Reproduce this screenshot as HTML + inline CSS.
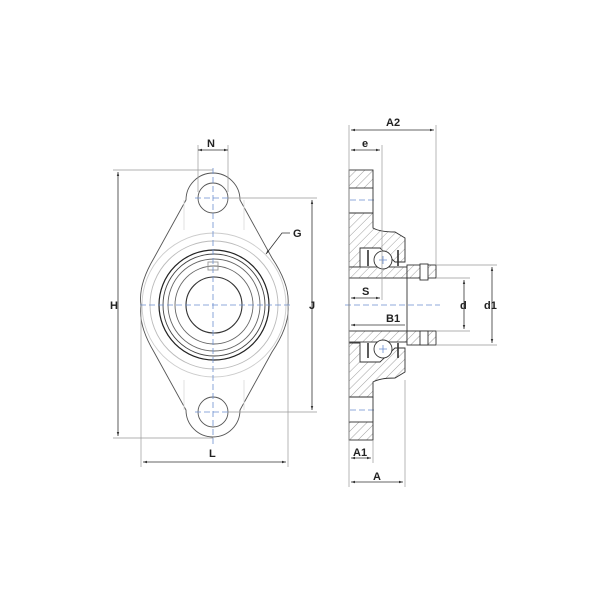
<!DOCTYPE html>
<html><head><meta charset="utf-8"><style>
html,body{margin:0;padding:0;background:#fff;width:600px;height:600px;overflow:hidden}
text{font-family:"Liberation Sans",sans-serif;font-weight:bold;font-size:11px;fill:#222}
</style></head><body>
<svg width="600" height="600" viewBox="0 0 600 600" xmlns="http://www.w3.org/2000/svg">
<defs>
<pattern id="h" width="6" height="6" patternUnits="userSpaceOnUse" patternTransform="rotate(45)">
<rect width="6" height="6" fill="#fff"/><line x1="0" y1="0" x2="0" y2="6" stroke="#888" stroke-width="0.8"/>
</pattern>
<marker id="a" viewBox="0 0 10 10" refX="10" refY="5" markerWidth="5" markerHeight="5" orient="auto-start-reverse"><path d="M0,2 L10,5 L0,8z" fill="#333"/></marker>
</defs>
<g fill="none" stroke="#555" stroke-width="0.9">
<path d="M186,200 A27,27 0 0 1 240,200 L272,258 Q290,285 288,305 Q290,325 272,352 L240,410 A27,27 0 0 1 186,410 L154,352 Q138,325 141,305 Q138,285 154,258 Z"/>
<circle cx="213" cy="198" r="15"/>
<circle cx="213" cy="412" r="15"/>
<circle cx="214" cy="305" r="72" stroke="#ccc"/>
<circle cx="214" cy="305" r="64" stroke="#bbb"/>
<circle cx="214" cy="305" r="55" stroke="#222" stroke-width="1.2"/>
<circle cx="214" cy="305" r="51" stroke="#444"/>
<circle cx="214" cy="305" r="46" stroke="#666"/>
<circle cx="214" cy="305" r="39" stroke="#666"/>
<circle cx="214" cy="305" r="28" stroke="#333" stroke-width="1.1"/>
<path d="M184,230 L184,200 M244,230 L244,200 M184,380 L184,410 M244,380 L244,410" stroke="#ddd"/>
<rect x="208" y="262" width="10" height="8" stroke="#999"/>
</g>
<g stroke="#6b8fd0" stroke-width="0.8" stroke-dasharray="6,3">
<line x1="213" y1="168" x2="213" y2="445"/>
<line x1="140" y1="305" x2="290" y2="305"/>
<line x1="195" y1="198" x2="231" y2="198"/>
<line x1="195" y1="412" x2="231" y2="412"/>
<line x1="345" y1="305" x2="440" y2="305"/>
<line x1="350" y1="200" x2="375" y2="200"/>
<line x1="350" y1="410" x2="375" y2="410"/>
</g>
<g stroke="#999" stroke-width="0.7" fill="none">
<line x1="198" y1="145" x2="198" y2="192"/><line x1="228" y1="145" x2="228" y2="192"/>
<line x1="113" y1="170" x2="213" y2="170"/><line x1="113" y1="438" x2="213" y2="438"/>
<line x1="141" y1="305" x2="141" y2="467"/><line x1="288" y1="305" x2="288" y2="467"/>
<line x1="228" y1="198" x2="317" y2="198"/><line x1="228" y1="412" x2="317" y2="412"/>
</g>
<g stroke="#333" stroke-width="0.8" fill="none">
<line x1="198" y1="150" x2="228" y2="150" marker-start="url(#a)" marker-end="url(#a)"/>
<line x1="118" y1="172" x2="118" y2="436" marker-start="url(#a)" marker-end="url(#a)"/>
<line x1="143" y1="462" x2="286" y2="462" marker-start="url(#a)" marker-end="url(#a)"/>
<line x1="312" y1="200" x2="312" y2="410" marker-start="url(#a)" marker-end="url(#a)"/>
<polyline points="266,254 282,233 290,233" marker-start="url(#a)"/>
</g>
<text x="207" y="147">N</text>
<text x="110" y="309">H</text>
<text x="209" y="457">L</text>
<text x="309" y="309">J</text>
<text x="293" y="237">G</text>
<g stroke="#333" stroke-width="0.9">
<rect x="349" y="170" width="24" height="18" fill="url(#h)"/>
<rect x="349" y="422" width="24" height="18" fill="url(#h)"/>
<path d="M349,188 V213 M373,188 V213 M349,397 V422 M373,397 V422" fill="none"/>
<path d="M349,213 L373,213 L373,228 Q380,232 395,232 L405,238 L405,262 L395,262 L380,248 L360,248 L360,267 L349,267 Z" fill="url(#h)"/>
<path d="M349,397 L373,397 L373,382 Q380,378 395,378 L405,372 L405,348 L395,348 L380,362 L360,362 L360,343 L349,343 Z" fill="url(#h)"/>
<rect x="349" y="267" width="58" height="11" fill="url(#h)"/>
<rect x="349" y="331" width="58" height="11" fill="url(#h)"/>
<rect x="407" y="265" width="29" height="13" fill="url(#h)"/>
<rect x="407" y="331" width="29" height="14" fill="url(#h)"/>
<line x1="407" y1="278" x2="407" y2="331"/><line x1="349" y1="278" x2="349" y2="331"/>
<rect x="420" y="264" width="8" height="16" fill="#fff"/>
<rect x="420" y="331" width="8" height="14" fill="#fff"/>
<circle cx="383" cy="260" r="9" fill="#fff"/>
<circle cx="383" cy="349" r="9" fill="#fff"/>
<path d="M368,250 L368,266 M398,250 L398,266 M368,343 L368,358 M398,343 L398,358" stroke-width="1.6"/>
</g>
<g stroke="#6b8fd0" stroke-width="0.8"><path d="M379,260h8M383,256v8M379,349h8M383,345v8"/></g>
<g stroke="#999" stroke-width="0.7">
<line x1="349" y1="125" x2="349" y2="487"/>
<line x1="436" y1="125" x2="436" y2="265"/>
<line x1="382" y1="145" x2="382" y2="300"/>
<line x1="373" y1="440" x2="373" y2="463"/>
<line x1="405" y1="380" x2="405" y2="487"/>
<line x1="436" y1="278" x2="470" y2="278"/><line x1="436" y1="331" x2="470" y2="331"/>
<line x1="436" y1="265" x2="497" y2="265"/><line x1="436" y1="345" x2="497" y2="345"/>
</g>
<g stroke="#333" stroke-width="0.8">
<line x1="351" y1="130" x2="434" y2="130" marker-start="url(#a)" marker-end="url(#a)"/>
<line x1="351" y1="150" x2="380" y2="150" marker-start="url(#a)" marker-end="url(#a)"/>
<line x1="351" y1="298" x2="380" y2="298" marker-start="url(#a)" marker-end="url(#a)"/>
<line x1="351" y1="325" x2="405" y2="325" marker-start="url(#a)"/>
<line x1="464" y1="280" x2="464" y2="329" marker-start="url(#a)" marker-end="url(#a)"/>
<line x1="492" y1="267" x2="492" y2="343" marker-start="url(#a)" marker-end="url(#a)"/>
<line x1="351" y1="458" x2="371" y2="458" marker-start="url(#a)" marker-end="url(#a)"/>
<line x1="351" y1="482" x2="403" y2="482" marker-start="url(#a)" marker-end="url(#a)"/>
</g>
<text x="386" y="126">A2</text>
<text x="362" y="147">e</text>
<text x="362" y="295">S</text>
<text x="386" y="322">B1</text>
<text x="460" y="309">d</text>
<text x="484" y="309">d1</text>
<text x="353" y="456">A1</text>
<text x="373" y="480">A</text>
</svg>
</body></html>
